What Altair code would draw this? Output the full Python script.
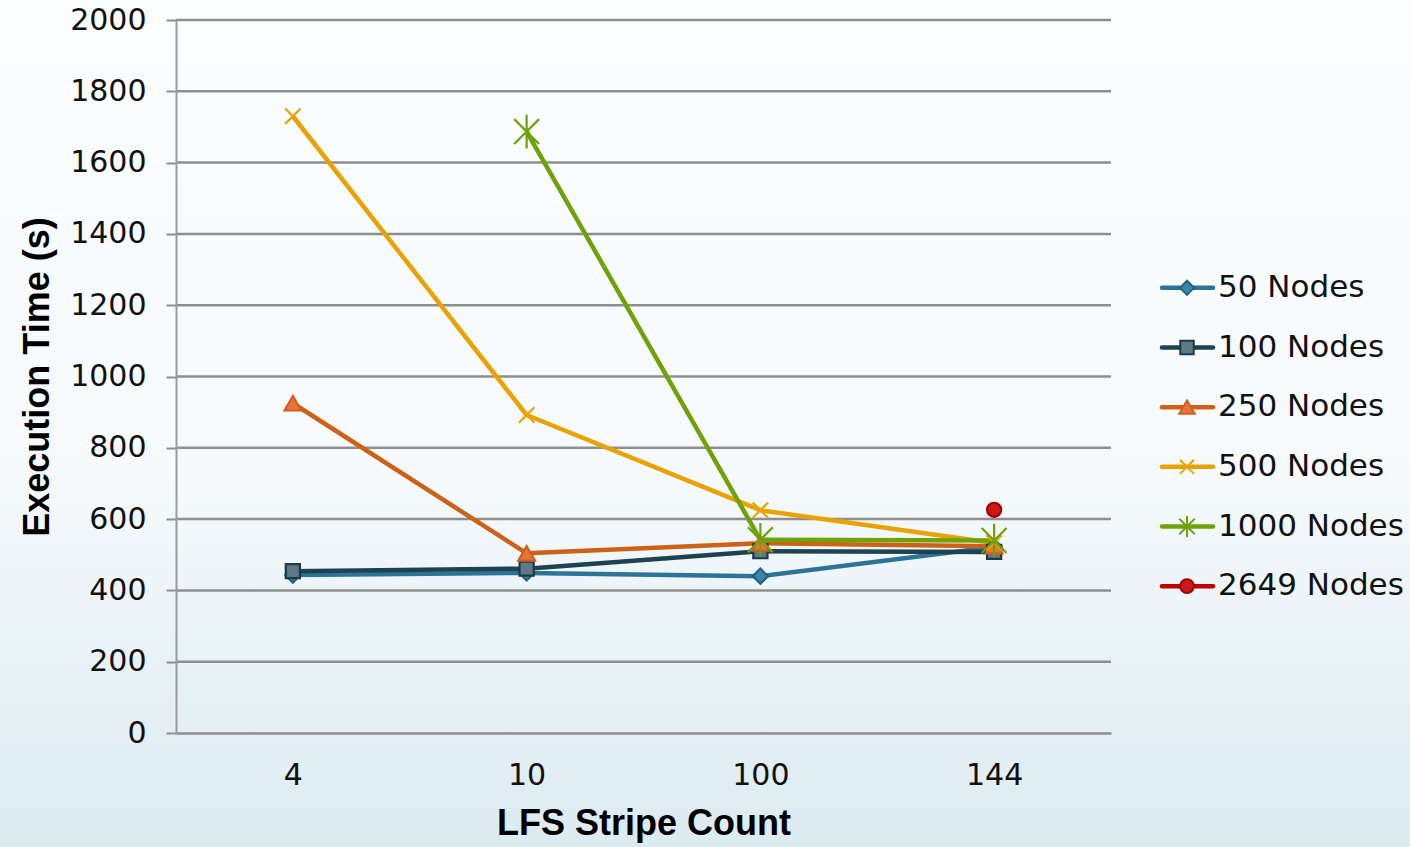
import altair as alt
import pandas as pd

# ---- data ----
stripes = ["4", "10", "100", "144"]
series = ["50 Nodes", "100 Nodes", "250 Nodes", "500 Nodes", "1000 Nodes", "2649 Nodes"]
values_50 = [443, 449, 440, 522]
values_100 = [454, 461, 510, 508]
values_250 = [925, 504, 532, 524]
values_500 = [1730, 892, 625, 533]
values_1000 = [None, 1687, 542, 540]
values_2649 = [None, None, None, 626]
y_ticks = [0, 200, 400, 600, 800, 1000, 1200, 1400, 1600, 1800, 2000]

line_colors = ["#2c7397", "#1f4250", "#cd6118", "#e8a202", "#6ea208", "#c00000"]
fill_colors = ["#3b87ab", "#5f7a86", "#e8743a", "#e8a202", "#6ea208", "#cc1a1a"]
stroke_colors = ["#23607d", "#1c3a47", "#d0601c", "#e8a202", "#6ea208", "#a00000"]
shapes = [
    "diamond",
    "square",
    "triangle-up",
    "M-1,-1L1,1M-1,1L1,-1",
    "M-1,-1L1,1M-1,1L1,-1M0,-1.35L0,1.35",
    "circle",
]
point_sizes = [230, 200, 280, 240, 620, 200]
legend_sizes = [200, 180, 240, 200, 240, 190]
line_widths = [4.5, 4.5, 4.5, 4.5, 5, 4.5]

all_vals = [values_50, values_100, values_250, values_500, values_1000, values_2649]
rows = []
for s, vals, ms in zip(series, all_vals, point_sizes):
    for st, v in zip(stripes, vals):
        if v is not None:
            rows.append({"series": s, "stripe": st, "time": v, "msize": ms})
df = pd.DataFrame(rows)
legend_df = pd.DataFrame({"series": series, "msize": legend_sizes})
grid_df = pd.DataFrame({"tick": y_ticks[1:]})
one_df = pd.DataFrame({"a": [0]})

W, H = 935, 713
PAD = {"left": 176, "top": 20, "right": 299, "bottom": 114}

yscale = alt.Scale(domain=[0, 2000], nice=False, zero=True)
xscale = alt.Scale(domain=stripes, type="point", padding=0.5)
line_scale = alt.Scale(domain=series, range=line_colors)
fill_scale = alt.Scale(domain=series, range=fill_colors)
stroke_scale = alt.Scale(domain=series, range=stroke_colors)
shape_scale = alt.Scale(domain=series, range=shapes)
width_scale = alt.Scale(domain=series, range=line_widths)

x_axis = alt.Axis(
    title="LFS Stripe Count",
    ticks=False,
    tickSize=0,
    grid=False,
    domainColor="#8e8e8e",
    domainWidth=2.5,
    labelFont="DejaVu Sans",
    labelFontSize=30,
    labelColor="#111111",
    labelBaseline="alphabetic",
    labelPadding=51,
    labelAngle=0,
    titleFont="Liberation Sans",
    titleFontSize=36,
    titleFontWeight="bold",
    titleColor="#000000",
    titleBaseline="alphabetic",
    titleX=W / 2,
    titleY=101,
    titleAlign="center",
    zindex=1,
)
y_axis = alt.Axis(
    values=y_ticks,
    format="d",
    grid=False,
    tickSize=10,
    tickColor="#8e8e8e",
    tickWidth=2,
    domainColor="#9a9a9a",
    domainWidth=2,
    labelFont="DejaVu Sans",
    labelFontSize=30,
    labelColor="#111111",
    labelPadding=20,
    title="Execution Time (s)",
    titleFont="Liberation Sans",
    titleFontSize=36,
    titleFontWeight="bold",
    titleColor="#000000",
    titleAngle=270,
    titleAlign="center",
    titleBaseline="middle",
    titleX=-139,
    titleY=H / 2,
    zindex=1,
)

bg = alt.Chart(one_df).mark_rect(
    color=alt.LinearGradient(
        gradient="linear",
        x1=0, y1=0, x2=0, y2=1,
        stops=[
            alt.GradientStop(offset=0, color="#fbfdfe"),
            alt.GradientStop(offset=0.55, color="#f6fafc"),
            alt.GradientStop(offset=1, color="#dcebf1"),
        ],
    )
).encode(
    x=alt.value(-PAD["left"]),
    x2=alt.value(W + PAD["right"]),
    y=alt.value(-PAD["top"]),
    y2=alt.value(H + PAD["bottom"]),
)

grid = alt.Chart(grid_df).mark_rule(color="#8e8e8e", strokeWidth=2.5).encode(
    y=alt.Y("tick:Q", scale=yscale, axis=y_axis),
    x=alt.value(0),
    x2=alt.value(W),
)

lines = alt.Chart(df).mark_line(strokeJoin="round").encode(
    x=alt.X("stripe:O", scale=xscale, axis=x_axis, sort=stripes),
    y=alt.Y("time:Q", scale=yscale, axis=y_axis),
    color=alt.Color("series:N", scale=line_scale, legend=None),
    strokeWidth=alt.StrokeWidth("series:N", scale=width_scale, legend=None),
    order=alt.Order("stripe_order:Q"),
).transform_calculate(
    stripe_order="indexof(['4','10','100','144'], datum.stripe)"
)

points = alt.Chart(df).mark_point(filled=True, strokeWidth=2.2, opacity=1).encode(
    x=alt.X("stripe:O", scale=xscale, axis=x_axis, sort=stripes),
    y=alt.Y("time:Q", scale=yscale, axis=y_axis),
    fill=alt.Fill("series:N", scale=fill_scale, legend=None),
    stroke=alt.Stroke("series:N", scale=stroke_scale, legend=None),
    shape=alt.Shape("series:N", scale=shape_scale, legend=None),
    size=alt.Size("msize:Q", scale=None, legend=None),
)

main = alt.layer(bg, grid, lines, points)

leg_y = alt.Y(
    "series:N",
    scale=alt.Scale(type="point", domain=series, range=[238, 596], padding=0.5),
    axis=None,
)
leg_rule = alt.Chart(legend_df).mark_rule(strokeWidth=4.5, strokeCap="round").encode(
    y=leg_y,
    x=alt.value(986),
    x2=alt.value(1037),
    color=alt.Color("series:N", scale=line_scale, legend=None),
)
leg_pts = alt.Chart(legend_df).mark_point(filled=True, strokeWidth=2, opacity=1).encode(
    y=leg_y,
    x=alt.value(1011),
    fill=alt.Fill("series:N", scale=fill_scale, legend=None),
    stroke=alt.Stroke("series:N", scale=stroke_scale, legend=None),
    shape=alt.Shape("series:N", scale=shape_scale, legend=None),
    size=alt.Size("msize:Q", scale=None, legend=None),
)
leg_txt = alt.Chart(legend_df).mark_text(
    align="left", baseline="middle", fontSize=31, font="DejaVu Sans", color="#111111"
).encode(
    y=leg_y,
    x=alt.value(1042),
    text="series:N",
)
legend = alt.layer(leg_rule, leg_pts, leg_txt)

chart = (
    alt.layer(main, legend)
    .resolve_scale(y="independent")
    .properties(
        width=W,
        height=H,
        padding=PAD,
        autosize=alt.AutoSizeParams(type="none"),
        background="#f7fbfc",
    )
    .configure_view(stroke=None)
)

chart.save("out.html", embed_options={"renderer": "svg", "actions": False})
